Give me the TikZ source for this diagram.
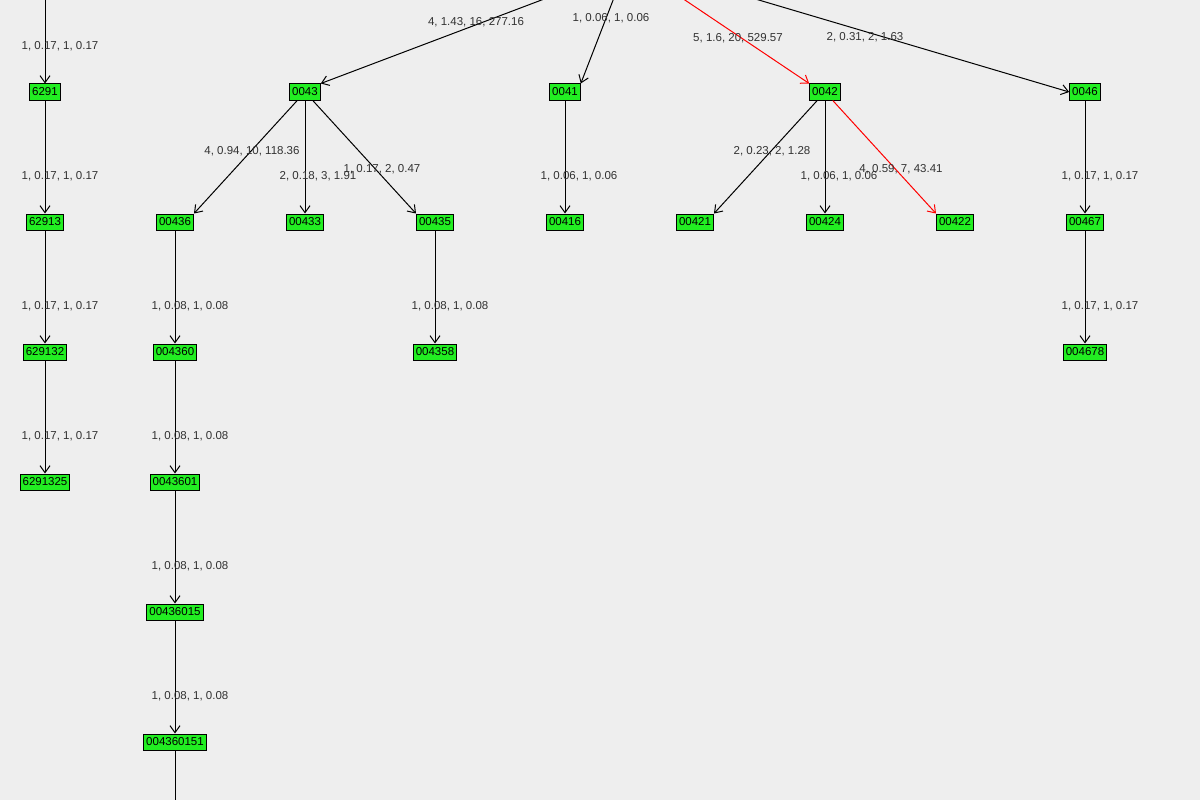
\documentclass[tikz,border=0pt]{standalone}
\usepackage{fontspec}
\setmainfont{Liberation Sans}
\usetikzlibrary{arrows.meta}
\definecolor{bgray}{RGB}{238,238,238}
\definecolor{vgreen}{RGB}{34,238,34}
\definecolor{lblgray}{RGB}{50,50,50}

\begin{document}
\begin{tikzpicture}[x=1pt, y=-1pt, line width=1pt,
    vtx/.style={rectangle, draw=black, fill=vgreen, inner xsep=2.5pt, inner ysep=2pt, minimum height=16pt, font=\fontsize{11.5}{13}\selectfont},
    edge/.style={-{Straight Barb[length=7pt, width=10pt]}, black},
    hot/.style={-{Straight Barb[length=7pt, width=10pt]}, red},
    wt/.style={font=\fontsize{11.5}{13}\selectfont, text=lblgray, inner sep=1pt}]
            \fill[bgray] (0,0) rectangle (1200,800);
            \clip (0,0) rectangle (1200,800);

            % first column
            \node[vtx] (6291) at (45, 92) {6291};
            \node[vtx] (62913) at (45, 222) {62913};
            \node[vtx] (629132) at (45, 352) {629132};
            \node[vtx] (6291325) at (45, 482) {6291325};

            % level one
            \node[vtx] (0043) at (305, 92) {0043};
            \node[vtx] (0041) at (565, 92) {0041};
            \node[vtx] (0042) at (825, 92) {0042};
            \node[vtx] (0046) at (1085, 92) {0046};

            % level two
            \node[vtx] (00436) at (175, 222) {00436};
            \node[vtx] (00433) at (305, 222) {00433};
            \node[vtx] (00435) at (435, 222) {00435};
            \node[vtx] (00416) at (565, 222) {00416};
            \node[vtx] (00421) at (695, 222) {00421};
            \node[vtx] (00424) at (825, 222) {00424};
            \node[vtx] (00422) at (955, 222) {00422};
            \node[vtx] (00467) at (1085, 222) {00467};

            % deeper levels
            \node[vtx] (004360) at (175, 352) {004360};
            \node[vtx] (004358) at (435, 352) {004358};
            \node[vtx] (004678) at (1085, 352) {004678};
            \node[vtx] (0043601) at (175, 482) {0043601};
            \node[vtx] (00436015) at (175, 612) {00436015};
            \node[vtx] (004360151) at (175, 742) {004360151};

            % ends outside the view
            \coordinate (top1) at (45, -10);
            \coordinate (top2) at (568, -10);
            \coordinate (top3) at (617, -10);
            \coordinate (top4) at (670, -10);
            \coordinate (top5) at (725, -10);
            \coordinate (bot1) at (175, 810);

            \draw[edge] (top1) -- (6291);
            \draw[edge] (6291) -- (62913);
            \draw[edge] (62913) -- (629132);
            \draw[edge] (629132) -- (6291325);
            \draw[edge] (top2) -- (0043.north east);
            \draw[edge] (top3) -- (0041.north east);
            \draw[hot] (top4) -- (0042.north west);
            \draw[edge] (top5) -- (0046.west);
            \draw[edge] (0043) -- (00436.north east);
            \draw[edge] (0043) -- (00433);
            \draw[edge] (0043) -- (00435.north west);
            \draw[edge] (0041) -- (00416);
            \draw[edge] (0042) -- (00421.north east);
            \draw[edge] (0042) -- (00424);
            \draw[hot] (0042) -- (00422.north west);
            \draw[edge] (0046) -- (00467);
            \draw[edge] (00436) -- (004360);
            \draw[edge] (00435) -- (004358);
            \draw[edge] (00467) -- (004678);
            \draw[edge] (004360) -- (0043601);
            \draw[edge] (0043601) -- (00436015);
            \draw[edge] (00436015) -- (004360151);
            \draw (004360151) -- (bot1);

            % weights
            \node[wt] at (60, 46) {1, 0.17, 1, 0.17};
            \node[wt] at (60, 176) {1, 0.17, 1, 0.17};
            \node[wt] at (60, 306) {1, 0.17, 1, 0.17};
            \node[wt] at (60, 436) {1, 0.17, 1, 0.17};
            \node[wt] at (476, 22) {4, 1.43, 16, 277.16};
            \node[wt] at (611, 18) {1, 0.06, 1, 0.06};
            \node[wt] at (738, 38) {5, 1.6, 20, 529.57};
            \node[wt] at (865, 37) {2, 0.31, 2, 1.63};
            \node[wt] at (252, 151) {4, 0.94, 10, 118.36};
            \node[wt] at (318, 176) {2, 0.18, 3, 1.91};
            \node[wt] at (382, 169) {1, 0.17, 2, 0.47};
            \node[wt] at (579, 176) {1, 0.06, 1, 0.06};
            \node[wt] at (772, 151) {2, 0.23, 2, 1.28};
            \node[wt] at (839, 176) {1, 0.06, 1, 0.06};
            \node[wt] at (901, 169) {4, 0.59, 7, 43.41};
            \node[wt] at (1100, 176) {1, 0.17, 1, 0.17};
            \node[wt] at (1100, 306) {1, 0.17, 1, 0.17};
            \node[wt] at (190, 306) {1, 0.08, 1, 0.08};
            \node[wt] at (450, 306) {1, 0.08, 1, 0.08};
            \node[wt] at (190, 436) {1, 0.08, 1, 0.08};
            \node[wt] at (190, 566) {1, 0.08, 1, 0.08};
            \node[wt] at (190, 696) {1, 0.08, 1, 0.08};
        \end{tikzpicture}
\end{document}
